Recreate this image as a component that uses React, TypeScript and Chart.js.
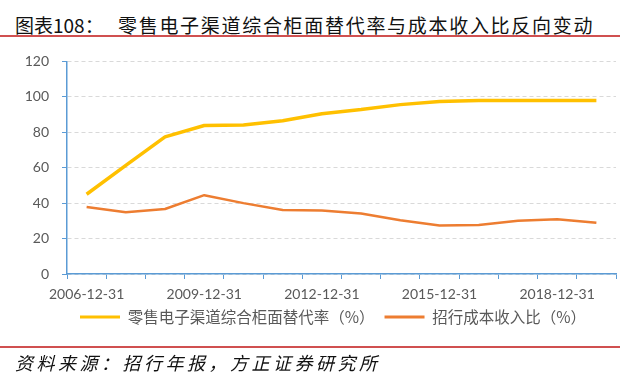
import React, { useEffect, useRef } from "react";
import { Chart, registerables } from "chart.js";

Chart.register(...registerables);

const categories: string[] = [
  "2006-12-31", "2007-12-31", "2008-12-31", "2009-12-31", "2010-12-31",
  "2011-12-31", "2012-12-31", "2013-12-31", "2014-12-31", "2015-12-31",
  "2016-12-31", "2017-12-31", "2018-12-31", "2019-12-31",
];
const substitutionRate: number[] = [45.0, 61.3, 77.4, 83.8, 84.1, 86.5, 90.5, 92.8, 95.6, 97.4, 97.9, 98.0, 98.0, 97.9];
const costIncomeRatio: number[] = [37.8, 34.9, 36.7, 44.5, 40.0, 36.1, 35.8, 34.1, 30.3, 27.4, 27.6, 30.0, 30.9, 28.9];
const seriesNames: string[] = ["零售电子渠道综合柜面替代率（%）", "招行成本收入比（%）"];
const yTicks: number[] = [0, 20, 40, 60, 80, 100, 120];

const titlePrefix = "图表108：";
const titleText = "零售电子渠道综合柜面替代率与成本收入比反向变动";
const sourceText = "资料来源：招行年报，方正证券研究所";

const BLUE = "#5B9BD5";
const YELLOW = "#FFC000";
const ORANGE = "#ED7D31";
const GREY = "#595959";

const LEGEND_X = 80;
const LEGEND_TEXT_Y = 277;

export default function App() {
  const canvasRef = useRef<HTMLCanvasElement | null>(null);

  useEffect(() => {
    const canvas = canvasRef.current;
    if (!canvas) return;
    const chart = new Chart(canvas, {
      type: "line",
      data: {
        labels: categories,
        datasets: [
          {
            label: seriesNames[0],
            data: substitutionRate,
            borderColor: YELLOW,
            backgroundColor: YELLOW,
            borderWidth: 3.5,
            pointRadius: 0,
            tension: 0,
            borderJoinStyle: "round",
          },
          {
            label: seriesNames[1],
            data: costIncomeRatio,
            borderColor: ORANGE,
            backgroundColor: ORANGE,
            borderWidth: 2.5,
            pointRadius: 0,
            tension: 0,
            borderJoinStyle: "round",
          },
        ],
      },
      options: {
        animation: false,
        responsive: false,
        maintainAspectRatio: false,
        layout: { padding: { left: 0, right: 24, top: 12, bottom: 10.5 } },
        plugins: {
          tooltip: { enabled: false },
          legend: {
            display: true,
            position: "bottom",
            labels: {
              boxWidth: 40,
              boxHeight: 3,
              padding: 10,
              color: GREY,
              font: { family: "'Noto Sans CJK SC', sans-serif", size: 15.5 },
              generateLabels: (ch: any) => {
                const items = Chart.defaults.plugins.legend.labels.generateLabels(ch);
                return items.map((it: any, i: number) => ({
                  ...it,
                  lineWidth: 0,
                  fillStyle: i === 0 ? YELLOW : ORANGE,
                }));
              },
            },
          },
        },
        scales: {
          x: {
            type: "category",
            offset: true,
            afterFit: (s: any) => { s.height = 30; },
            border: { display: true, color: BLUE, width: 1.5 },
            grid: {
              display: true,
              offset: true,
              drawOnChartArea: false,
              drawTicks: true,
              tickLength: 5,
              tickColor: BLUE,
              tickWidth: 1,
            },
            ticks: {
              autoSkip: false,
              maxRotation: 0,
              minRotation: 0,
              padding: 7,
              color: GREY,
              font: { family: "Lato, sans-serif", size: 14 },
              callback: (_v: any, idx: number) => (idx % 3 === 0 ? categories[idx] : ""),
            },
          },
          y: {
            min: yTicks[0],
            max: yTicks[yTicks.length - 1],
            afterFit: (s: any) => { s.width = 67; },
            afterBuildTicks: (s: any) => { s.ticks = yTicks.map((v) => ({ value: v })); },
            border: { display: true, color: BLUE, width: 1.5, dash: [4, 3] },
            grid: {
              color: "#D9D9D9",
              lineWidth: 1,
              tickLength: 5,
              tickColor: BLUE,
              tickBorderDash: [],
              drawTicks: true,
            },
            ticks: {
              padding: 13,
              color: GREY,
              font: { family: "Lato, sans-serif", size: 14 },
            },
          },
        },
      },
      plugins: [
        {
          id: "placeLegend",
          afterLayout: (ch: any) => {
            const lg = ch.legend;
            if (!lg) return;
            const pad = lg.options.labels.padding;
            const fontSize = lg.options.labels.font.size;
            const lw = lg.lineWidths ? lg.lineWidths[0] : 0;
            const x0 = (lg.left + pad + lg.right - lw) / 2;
            const dx = LEGEND_X - x0;
            lg.left += dx;
            lg.right += dx;
            const targetTop = LEGEND_TEXT_Y - pad - Math.max(fontSize, 3) / 2;
            const dy = targetTop - lg.top;
            lg.top += dy;
            lg.bottom += dy;
          },
        },
      ],
    } as any);
    return () => chart.destroy();
  }, []);

  return (
    <div
      style={{
        position: "fixed",
        left: 0,
        top: 0,
        width: 640,
        height: 389,
        background: "#fff",
        overflow: "hidden",
        fontFamily: "'Noto Sans CJK SC', sans-serif",
      }}
    >
      <div style={{ position: "absolute", left: 15, top: 14, fontSize: 19, lineHeight: "22px", color: "#111", whiteSpace: "nowrap" }}>
        {titlePrefix}
      </div>
      <div style={{ position: "absolute", left: 118, top: 14, fontSize: 19, lineHeight: "22px", letterSpacing: "1.7px", color: "#111", whiteSpace: "nowrap" }}>
        {titleText}
      </div>
      <div style={{ position: "absolute", left: 0, top: 35, width: 620, height: 2, background: "#D05050" }} />
      <canvas ref={canvasRef} width={640} height={310} style={{ position: "absolute", left: 0, top: 40, width: 640, height: 310 }} />
      <div style={{ position: "absolute", left: 0, top: 346, width: 620, height: 2, background: "#D05050" }} />
      <div style={{ position: "absolute", left: 15, top: 351, fontSize: 18, lineHeight: "22px", letterSpacing: "3.5px", fontStyle: "italic", color: "#111", whiteSpace: "nowrap" }}>
        {sourceText}
      </div>
    </div>
  );
}
